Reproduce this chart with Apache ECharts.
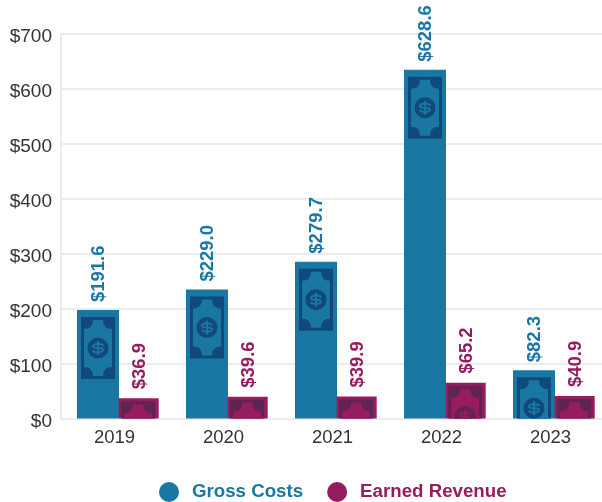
<!DOCTYPE html>
<html>
<head>
<meta charset="utf-8">
<style>html,body{margin:0;padding:0;background:#fff}#c{width:602px;height:502px}</style>
<script src="https://cdn.jsdelivr.net/npm/echarts@6/dist/echarts.min.js"></script>
</head>
<body>
<div id="c"></div>
<script>
const years = ['2019', '2020', '2021', '2022', '2023'];
const grossCosts = [191.6, 229.0, 279.7, 628.6, 82.3];
const earnedRevenue = [36.9, 39.6, 39.9, 65.2, 40.9];
const yTicks = [0, 100, 200, 300, 400, 500, 600, 700];

const FONT = '"Liberation Sans", Arial, sans-serif';
const chart = echarts.init(document.getElementById('c'), null, {renderer: 'canvas'});

function billChildren(x, y, dark, light) {
  const w = 34, h = 62, r = 9, i = 3;
  const L = x + i, R = x + w - i, T = y + 3, B = y + h - 3;
  const inner =
    'M' + (L + r) + ' ' + T +
    'Q' + (L + r) + ' ' + (T + r) + ' ' + L + ' ' + (T + r) +
    'L' + L + ' ' + (B - r) +
    'Q' + (L + r) + ' ' + (B - r) + ' ' + (L + r) + ' ' + B +
    'L' + (R - r) + ' ' + B +
    'Q' + (R - r) + ' ' + (B - r) + ' ' + R + ' ' + (B - r) +
    'L' + R + ' ' + (T + r) +
    'Q' + (R - r) + ' ' + (T + r) + ' ' + (R - r) + ' ' + T + 'Z';
  const cx = x + w / 2, cy = y + 31;
  const dollar =
    'M' + (cx + 5.5) + ' ' + (cy - 2.5) +
    'C' + (cx + 2) + ' ' + (cy - 5.5) + ' ' + (cx - 5) + ' ' + (cy - 4.5) + ' ' + (cx - 5) + ' ' + (cy - 1.5) +
    'C' + (cx - 5) + ' ' + (cy + 1) + ' ' + (cx + 5) + ' ' + (cy - 1) + ' ' + (cx + 5) + ' ' + (cy + 1.5) +
    'C' + (cx + 5) + ' ' + (cy + 4.5) + ' ' + (cx - 2) + ' ' + (cy + 5.5) + ' ' + (cx - 5.5) + ' ' + (cy + 2.5) +
    'M' + cx + ' ' + (cy - 7) + 'L' + cx + ' ' + (cy + 7);
  return [
    {type: 'rect', shape: {x: x, y: y, width: w, height: h}, style: {fill: dark}},
    {type: 'path', shape: {pathData: inner}, style: {fill: light}},
    {type: 'circle', shape: {cx: cx, cy: cy, r: 10.5}, style: {fill: dark}},
    {type: 'path', shape: {pathData: dollar}, style: {fill: 'none', stroke: light, lineWidth: 2}}
  ];
}

function barSeries(name, values, color, dark, cfg) {
  return {
    name: name,
    type: 'custom',
    clip: false,
    data: values.map((v, i) => [i, v]),
    encode: {x: 0, y: 1},
    itemStyle: {color: color},
    renderItem: function (params, api) {
      const i = api.value(0), v = api.value(1);
      const top = api.coord([i, v]);
      const base = api.coord([i, 0]);
      const left = top[0] + cfg.dx;
      const y = top[1] - cfg.pad;
      const clip = {type: 'rect', shape: {x: left, y: y, width: cfg.width, height: base[1] - y}};
      return {
        type: 'group',
        children: [
          {type: 'rect', shape: {x: left, y: y, width: cfg.width, height: base[1] - y}, style: {fill: color}},
          {
            type: 'group',
            clipPath: clip,
            children: billChildren(left + cfg.inset, y + cfg.insetTop, dark, color)
          },
          {
            type: 'text',
            x: left + cfg.width / 2 + 1,
            y: top[1] - cfg.gap,
            rotation: Math.PI / 2,
            style: {
              text: '$' + v.toFixed(1),
              fill: color,
              font: 'bold 18.5px ' + FONT,
              align: 'left',
              verticalAlign: 'middle'
            }
          }
        ]
      };
    }
  };
}

chart.setOption({
  animation: false,
  backgroundColor: '#fff',
  grid: {left: 61, top: 33.5, width: 545, height: 385, outerBoundsMode: 'none'},
  legend: {
    top: 482,
    left: 159,
    padding: 0,
    icon: 'circle',
    itemWidth: 20,
    itemHeight: 20,
    itemGap: 24,
    textStyle: {fontFamily: FONT, fontSize: 18.7, fontWeight: 'bold', padding: [0, 0, 0, 8]},
    data: [
      {name: 'Gross Costs', textStyle: {color: '#1a77a4'}},
      {name: 'Earned Revenue', textStyle: {color: '#961c5f'}}
    ]
  },
  xAxis: {
    type: 'category',
    data: years,
    axisLine: {show: true, lineStyle: {color: '#ececec', width: 2}},
    axisTick: {show: false},
    axisLabel: {color: '#333', fontFamily: FONT, fontSize: 18.5, margin: 10, padding: [0, 2, 0, 0]}
  },
  yAxis: {
    type: 'value',
    min: yTicks[0],
    max: yTicks[yTicks.length - 1],
    interval: 100,
    axisLine: {show: true, lineStyle: {color: '#ececec', width: 2}},
    axisTick: {show: false},
    splitLine: {lineStyle: {color: '#ececec', width: 2}},
    axisLabel: {
      color: '#333', fontFamily: FONT, fontSize: 19, margin: 9,
      verticalAlign: 'top', lineHeight: 6,
      formatter: v => '$' + v
    }
  },
  series: [
    barSeries('Gross Costs', grossCosts, '#1a77a4', '#0f4a7b', {dx: -38.5, width: 42, pad: 3, inset: 4, insetTop: 7, gap: 11}),
    barSeries('Earned Revenue', earnedRevenue, '#961c5f', '#5f2452', {dx: 3.2, width: 40, pad: 0, inset: 2.5, insetTop: 3, gap: 9})
  ]
});
</script>
</body>
</html>
